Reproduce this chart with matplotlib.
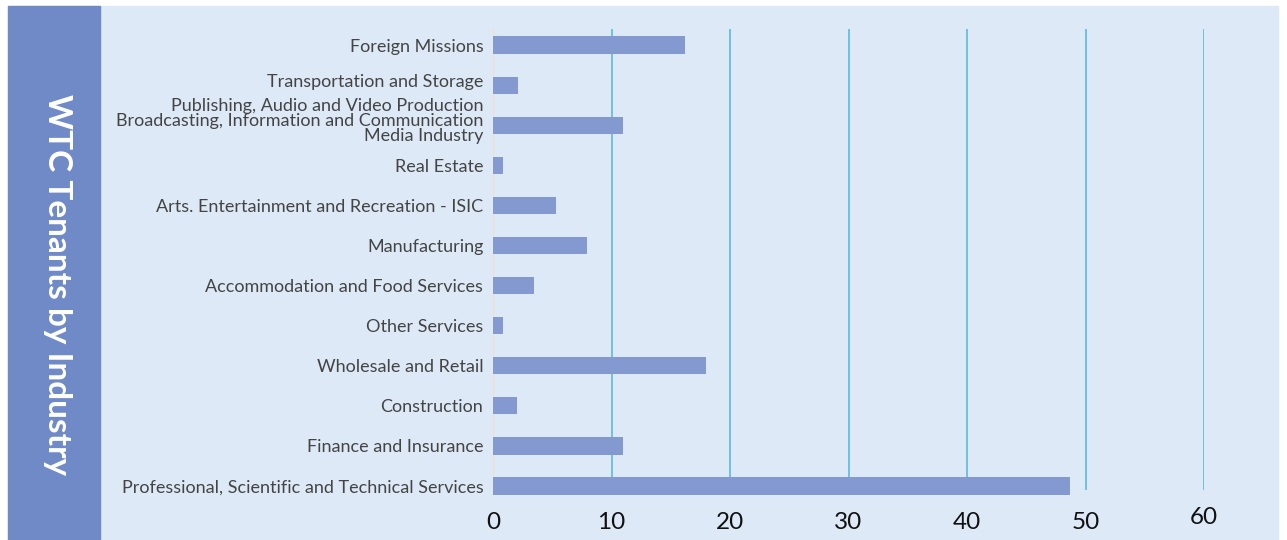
import matplotlib
matplotlib.use("Agg")
import matplotlib.pyplot as plt
from matplotlib.patches import Rectangle
from matplotlib.transforms import ScaledTranslation

# categories listed bottom -> top
industries = [
    "Professional, Scientific and Technical Services",
    "Finance and Insurance",
    "Construction",
    "Wholesale and Retail",
    "Other Services",
    "Accommodation and Food Services",
    "Manufacturing",
    "Arts. Entertainment and Recreation - ISIC",
    "Real Estate",
    "Publishing, Audio and Video Production\nBroadcasting, Information and Communication\nMedia Industry",
    "Transportation and Storage",
    "Foreign Missions",
]
tenants = [48.7, 11, 2, 18, 0.85, 3.5, 7.9, 5.3, 0.85, 11, 2.1, 16.2]
xticks = [0, 10, 20, 30, 40, 50, 60]

W, H = 1287, 540
fig = plt.figure(figsize=(W / 100, H / 100), dpi=100, facecolor="white")

# background panels (pixel coords -> figure fraction)
def px(x0, y0, x1, y1):
    return (x0 / W, 1 - y1 / H), (x1 - x0) / W, (y1 - y0) / H

xy, w, h = px(8, 6, 1278, 540)
fig.patches.append(Rectangle(xy, w, h, transform=fig.transFigure, color="#dde9f7", zorder=-2))
xy, w, h = px(8, 6, 100, 540)
fig.patches.append(Rectangle(xy, w, h, transform=fig.transFigure, color="#6f8ac6", zorder=-1))
fig.text(57 / W, 1 - 285 / H, "WTC Tenants by Industry", rotation=-90, color="white",
         fontsize=24, fontweight="bold", family="Lato", ha="center", va="center")

ax = fig.add_axes([493 / W, 1 - 490 / H, (1204 - 493) / W, (490 - 29) / H])
ax.set_zorder(2)
ax.set_facecolor("none")
for s in ax.spines.values():
    s.set_visible(False)

ypos = list(range(len(industries)))
ax.set_xlim(0, 60)
ax.set_ylim(-0.1, 11.4)

for t in xticks[1:]:
    ax.axvline(t, color="#5bbbdf", lw=1.2, zorder=1)
ax.axvline(0, color="#f6dccb", lw=1.5, zorder=1)

ax.barh(ypos, tenants, height=0.43, color="#8399cf", zorder=2, clip_on=False)

ax.set_yticks(ypos)
ax.set_yticklabels(industries, fontsize=13, color="#444444", family="Lato",
                   linespacing=0.92, multialignment="right")
ax.set_xticks(xticks)
ax.set_xticklabels([str(t) for t in xticks], fontsize=17.5, color="#111111", family="Lato")
ax.tick_params(axis="y", length=0, pad=7)
ax.tick_params(axis="x", length=0, pad=16)

# a few labels sit slightly above their bars in the original
up = ScaledTranslation(0, 5 / 100, fig.dpi_scale_trans)
for lab in (ax.get_yticklabels()[9], ax.get_yticklabels()[10], ax.get_xticklabels()[-1]):
    lab.set_transform(lab.get_transform() + up)

fig.savefig("out.png", dpi=100, facecolor="white")
